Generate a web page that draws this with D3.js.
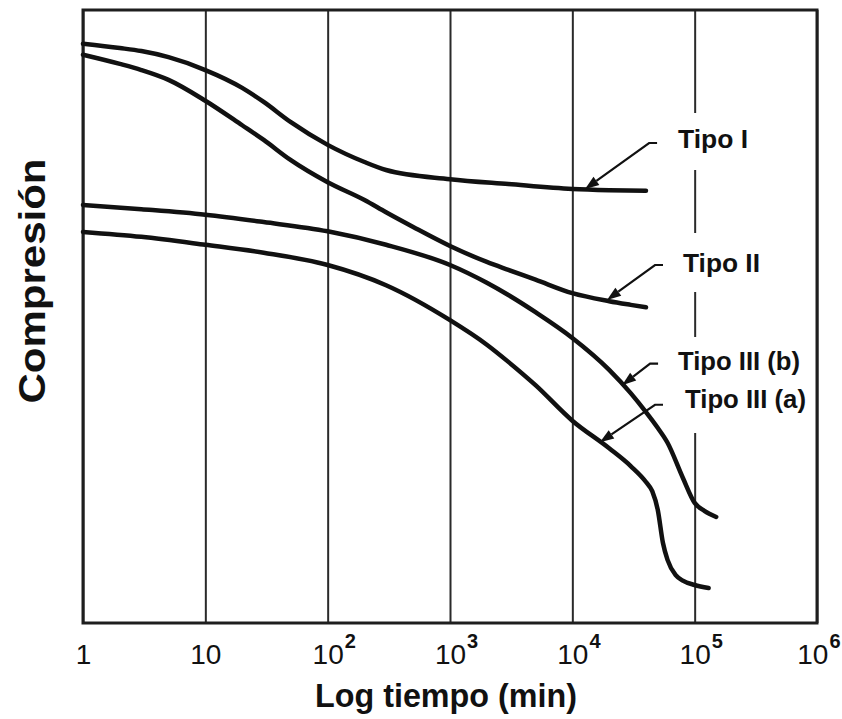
<!DOCTYPE html>
<html>
<head>
<meta charset="utf-8">
<script src="https://cdn.jsdelivr.net/npm/d3@7"></script>
<style>
  html, body { margin: 0; padding: 0; background: #ffffff; }
  svg { display: block; }
</style>
</head>
<body>
<svg id="chart" width="842" height="719"></svg>
<script>
// ---------- DATA ----------
// x axis: time (min), log scale; y axis: compression (arbitrary units, grows downward)
const tickValues = [1, 10, 100, 1000, 10000, 100000, 1000000];
const tickBase   = ["1", "10", "10", "10", "10", "10", "10"];
const tickExp    = ["", "", "2", "3", "4", "5", "6"];

const tipoI = [[1,5.5],[2,6.2],[3,6.7],[5,7.7],[10,9.8],[20,12.7],[30,15.0],[50,18.3],
  [100,22.0],[200,24.8],[300,26.1],[1000,27.6],[3000,28.4],[10000,29.2],[20000,29.4],[40000,29.5]];

const tipoII = [[1,7.3],[2,8.8],[3,9.8],[5,11.4],[10,14.8],[20,18.8],[30,21.2],[50,24.5],
  [100,28.1],[200,31.0],[300,33.0],[500,35.4],[1000,38.5],[2000,41.1],[3000,42.4],[5000,44.0],
  [10000,46.2],[20000,47.5],[30000,48.1],[40000,48.5]];

const tipoIIIb = [[1,31.8],[3,32.5],[10,33.4],[30,34.6],[100,36.1],[300,38.3],[1000,41.6],
  [2000,44.5],[3000,46.5],[5000,49.3],[10000,53.5],[20000,58.7],[30000,62.5],[40000,65.6],
  [50000,68.2],[60000,70.6],[80000,76.3],[100000,80.4],[120000,81.7],[150000,82.7]];

const tipoIIIa = [[1,36.2],[3,37.0],[10,38.3],[30,39.6],[100,41.6],[300,44.9],[1000,50.6],
  [2000,54.6],[3000,57.4],[5000,61.2],[10000,67.0],[20000,71.5],[30000,74.4],[40000,77.0],
  [45000,78.5],[50000,81.6],[55000,86.9],[60000,89.7],[70000,92.2],[80000,93.1],[100000,93.8],[130000,94.3]];

const seriesNames = ["Tipo I", "Tipo II", "Tipo III (b)", "Tipo III (a)"];
// arrow: [corner t, corner c] -> [tip t, tip c]
const arrowFrom = [[42400,21.7],[47400,41.6],[43200,57.7],[47400,64.4]];
const arrowTo   = [[12700,29.2],[19200,47.3],[25500,61.2],[16800,70.5]];

const xTitle = "Log tiempo (min)";
const yTitle = "Compresión";

// ---------- LAYOUT ----------
const plotL = 83, plotR = 817, plotT = 10, plotB = 623;
const labelPos = [[678,148,70],[683,272,77],[678,370,122],[685,408,121]]; // x, baseline, width
const labelBoxes = [[658,113,155,57],[664,233,150,59],[658,337,155,96]];

const svg = d3.select("#chart");
svg.append("rect").attr("width", 842).attr("height", 719).attr("fill", "#ffffff");

const x = d3.scaleLog().domain([1, 1e6]).range([plotL, plotR]);
const y = d3.scaleLinear().domain([0, 100]).range([plotT, plotB]);

// vertical grid lines
const grid = svg.append("g").attr("transform", `translate(0,${plotB})`)
  .call(d3.axisBottom(x).tickValues(tickValues).tickSize(-(plotB - plotT)).tickFormat(""));
grid.select(".domain").remove();
grid.selectAll(".tick line").attr("stroke", "#2a2a2a").attr("stroke-width", 2);

// white label boxes (break grid line like in the reference)
svg.append("g").selectAll("rect").data(labelBoxes).join("rect")
  .attr("x", d => d[0]).attr("y", d => d[1]).attr("width", d => d[2]).attr("height", d => d[3])
  .attr("fill", "#ffffff");

// frame
svg.append("rect").attr("x", plotL).attr("y", plotT).attr("width", plotR - plotL).attr("height", plotB - plotT)
  .attr("fill", "none").attr("stroke", "#1e1e1e").attr("stroke-width", 3);

// tick labels
const axis = svg.append("g").attr("transform", `translate(0,${plotB})`)
  .call(d3.axisBottom(x).tickValues(tickValues).tickSize(0).tickPadding(0).tickFormat(""));
axis.select(".domain").remove();
axis.selectAll(".tick text").remove();
axis.selectAll(".tick").each(function(d, i) {
  const g = d3.select(this);
  const lab = g.append("g");
  const t = lab.append("text")
    .attr("y", 41)
    .attr("text-anchor", "middle")
    .attr("font-family", "Liberation Sans, Arial, sans-serif")
    .attr("font-size", 28)
    .attr("fill", "#111")
    .text(tickBase[i]);
  if (tickExp[i]) {
    const w = t.node().getComputedTextLength();
    const s = lab.append("text")
      .attr("x", w / 2 + 1)
      .attr("y", 25)
      .attr("text-anchor", "start")
      .attr("font-family", "Liberation Sans, Arial, sans-serif")
      .attr("font-weight", "bold")
      .attr("font-size", 20)
      .attr("fill", "#111")
      .text(tickExp[i]);
    const sw = s.node().getComputedTextLength();
    const overflow = x(d) + w / 2 + 1 + sw - 840;
    if (overflow > 0) lab.attr("transform", `translate(${-overflow},0)`);
  }
});

// curves
const line = d3.line().x(d => x(d[0])).y(d => y(d[1])).curve(d3.curveMonotoneX);
svg.append("g").selectAll("path").data([tipoI, tipoII, tipoIIIb, tipoIIIa]).join("path")
  .attr("d", line)
  .attr("fill", "none")
  .attr("stroke", "#111")
  .attr("stroke-width", 4.5)
  .attr("stroke-linecap", "round")
  .attr("stroke-linejoin", "round");

// arrows
const arrows = svg.append("g");
arrowFrom.forEach((f, i) => {
  const x0 = x(f[0]), y0 = y(f[1]);
  const x1 = x(arrowTo[i][0]), y1 = y(arrowTo[i][1]);
  const ang = Math.atan2(y1 - y0, x1 - x0);
  const L = 14, W = 5;
  const bx = x1 - L * Math.cos(ang), by = y1 - L * Math.sin(ang);
  arrows.append("path")
    .attr("d", `M${x0 + 8},${y0} L${x0},${y0} L${bx},${by}`)
    .attr("fill", "none").attr("stroke", "#111").attr("stroke-width", 2.2);
  const px = -Math.sin(ang) * W, py = Math.cos(ang) * W;
  arrows.append("path")
    .attr("d", `M${x1},${y1} L${bx + px},${by + py} L${bx - px},${by - py} Z`)
    .attr("fill", "#111");
});

// series labels
svg.append("g").selectAll("text").data(seriesNames).join("text")
  .attr("x", (d, i) => labelPos[i][0])
  .attr("y", (d, i) => labelPos[i][1])
  .attr("textLength", (d, i) => labelPos[i][2])
  .attr("lengthAdjust", "spacingAndGlyphs")
  .attr("font-family", "Liberation Sans, Arial, sans-serif")
  .attr("font-weight", "bold")
  .attr("font-size", 25)
  .attr("fill", "#111")
  .text(d => d);

// axis titles
svg.append("text")
  .attr("x", 315).attr("y", 707)
  .attr("textLength", 262).attr("lengthAdjust", "spacingAndGlyphs")
  .attr("font-family", "Liberation Sans, Arial, sans-serif")
  .attr("font-weight", "bold").attr("font-size", 34)
  .attr("fill", "#111")
  .text(xTitle);

svg.append("text")
  .attr("transform", "translate(45,281) rotate(-90)")
  .attr("text-anchor", "middle")
  .attr("textLength", 245).attr("lengthAdjust", "spacingAndGlyphs")
  .attr("font-family", "Liberation Sans, Arial, sans-serif")
  .attr("font-weight", "bold").attr("font-size", 37)
  .attr("fill", "#111")
  .text(yTitle);
</script>
</body>
</html>
